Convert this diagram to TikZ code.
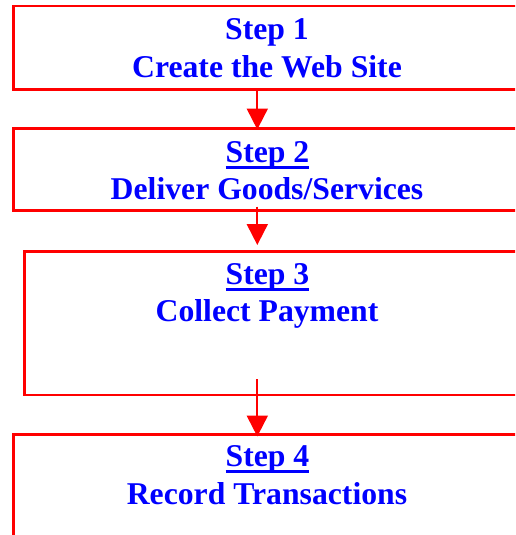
\documentclass[tikz,border=0pt]{standalone}
\usepackage{fontspec}
\setmainfont{Liberation Serif}
\usetikzlibrary{arrows.meta}
\definecolor{boxred}{RGB}{255,0,0}
\definecolor{txtblue}{RGB}{0,0,255}
\newcommand\ulstep[1]{\setbox0\hbox{#1}\rlap{\vrule width\wd0 height -3.7pt depth 6.7pt}\box0}
\tikzset{
  stepbox/.style={draw=boxred, line width=2.5pt, rectangle, inner sep=0pt, anchor=north west},
  steptxt/.style={text=txtblue, font=\fontsize{31.7pt}{38pt}\selectfont\bfseries, inner sep=0pt, anchor=base},
  flow/.style={draw=boxred, line width=2pt, -{Triangle[width=21pt,length=21pt]}}
}
\begin{document}
\begin{tikzpicture}[x=1pt,y=-1pt]
\useasboundingbox (0,0) rectangle (515,535);
\clip (0,0) rectangle (515,535);
% boxes
\node[stepbox, minimum width=520pt, minimum height=83pt] (b1) at (12,5) {};
\node[stepbox, minimum width=520pt, minimum height=82pt] (b2) at (12,127) {};
\node[stepbox, minimum width=510pt, minimum height=143.5pt] (b3) at (23,250) {};
\node[stepbox, minimum width=520pt, minimum height=140pt] (b4) at (12,433) {};
% texts
\node[steptxt] (t1a) at (267,39.3) {Step 1};
\node[steptxt] (t1b) at (267,77.3) {Create the Web Site};
\node[steptxt] (t2a) at (267.5,162.5) {\ulstep{Step 2}};
\node[steptxt] (t2b) at (267,199) {Deliver Goods/Services};
\node[steptxt] (t3a) at (267.5,284.3) {\ulstep{Step 3}};
\node[steptxt] (t3b) at (267,321.7) {Collect Payment};
\node[steptxt] (t4a) at (267.5,466.7) {\ulstep{Step 4}};
\node[steptxt] (t4b) at (267,504) {Record Transactions};
% connectors
\coordinate (a1s) at (257.3,90);
\coordinate (a1e) at (257.3,129.5);
\coordinate (a2s) at (257.3,206.5);
\coordinate (a2e) at (257.3,245);
\coordinate (a3s) at (257.3,379);
\coordinate (a3e) at (257.3,436.5);
\draw[flow] (a1s) -- (a1e);
\draw[flow] (a2s) -- (a2e);
\draw[flow] (a3s) -- (a3e);
\end{tikzpicture}
\end{document}
